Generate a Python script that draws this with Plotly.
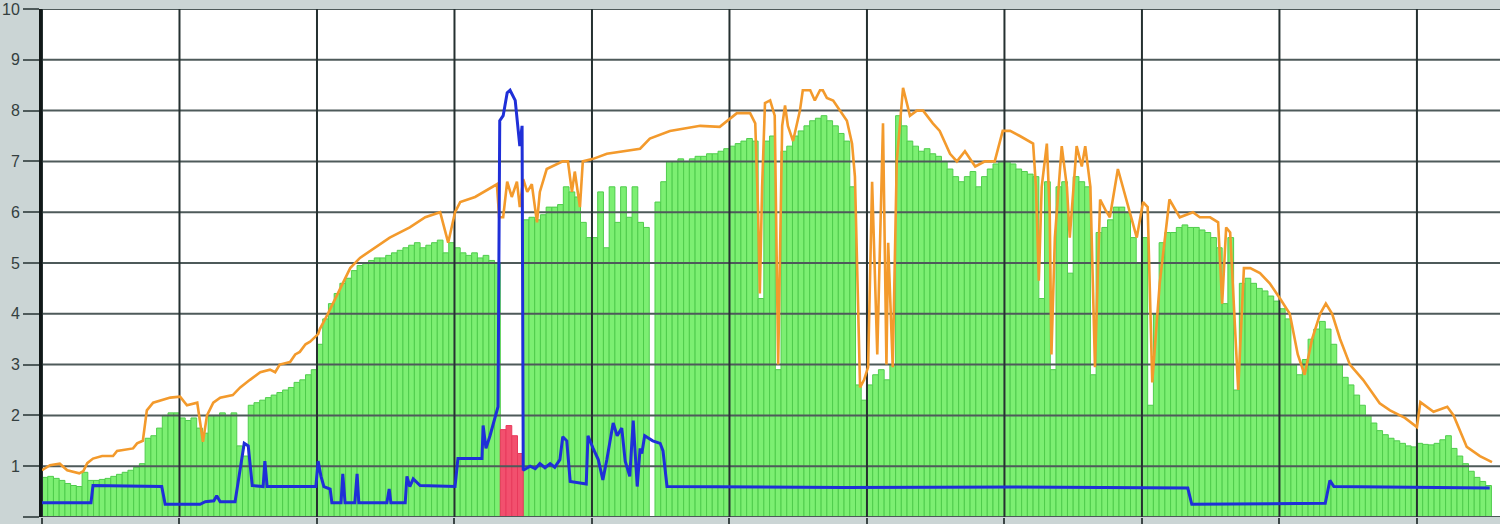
import numpy as np
import plotly.graph_objects as go

# ---------------- data ----------------
# green bars: one value per time slot (24 slots per grid column)
green_vals = [
    0.78, 0.80, 0.76, 0.72, 0.66, 0.62, 0.60, 0.88, 0.72, 0.72,
    0.74, 0.76, 0.80, 0.84, 0.88, 0.92, 0.98, 1.05, 1.55, 1.60,
    1.75, 2.00, 2.05, 2.05, 1.95, 1.90, 1.95, 1.75, 1.65, 2.00,
    2.00, 2.05, 2.00, 2.05, 1.40, 1.20, 2.20, 2.25, 2.30, 2.35,
    2.40, 2.45, 2.50, 2.55, 2.65, 2.70, 2.80, 2.90, 3.40, 3.90,
    4.20, 4.40, 4.60, 4.70, 4.85, 4.95, 5.00, 5.05, 5.10, 5.10,
    5.15, 5.20, 5.25, 5.30, 5.35, 5.40, 5.30, 5.35, 5.40, 5.45,
    5.20, 5.40, 5.30, 5.20, 5.15, 5.20, 5.10, 5.15, 5.05, 5.00,
    0.00, 0.00, 0.00, 0.00, 5.85, 5.90, 5.85, 5.95, 6.10, 6.10,
    6.15, 6.50, 6.40, 6.30, 5.80, 5.50, 5.50, 6.40, 5.30, 6.50,
    5.80, 6.50, 5.90, 6.50, 5.80, 5.70, 0.00, 6.20, 6.60, 7.00,
    7.00, 7.05, 7.00, 7.05, 7.10, 7.10, 7.15, 7.15, 7.20, 7.25,
    7.30, 7.35, 7.40, 7.45, 7.40, 4.30, 7.40, 7.50, 2.90, 7.20,
    7.30, 7.50, 7.60, 7.70, 7.80, 7.85, 7.90, 7.80, 7.70, 7.55,
    7.40, 6.50, 2.60, 2.30, 2.60, 2.80, 2.90, 2.70, 3.00, 7.90,
    7.70, 7.40, 7.30, 7.20, 7.25, 7.15, 7.10, 7.00, 6.85, 6.70,
    6.60, 6.70, 6.80, 6.50, 6.70, 6.85, 6.95, 7.00, 7.00, 6.95,
    6.85, 6.80, 6.75, 6.70, 4.30, 6.60, 2.90, 6.50, 6.60, 4.80,
    6.70, 6.60, 6.50, 2.80, 5.60, 5.70, 5.85, 6.10, 6.10, 6.00,
    5.50, 5.00, 5.50, 2.20, 4.00, 5.40, 5.60, 5.60, 5.70, 5.75,
    5.70, 5.70, 5.65, 5.60, 5.50, 5.30, 4.20, 5.50, 2.50, 4.60,
    4.70, 4.60, 4.50, 4.45, 4.35, 4.25, 4.10, 3.90, 3.00, 2.80,
    3.10, 3.50, 3.70, 3.85, 3.70, 3.40, 3.00, 2.75, 2.60, 2.40,
    2.20, 2.00, 1.85, 1.70, 1.62, 1.55, 1.50, 1.45, 1.40, 1.38,
    1.45, 1.43, 1.42, 1.45, 1.52, 1.60, 1.35, 1.20, 1.05, 0.90,
    0.78, 0.70, 0.62,
]

# red bars (slot index, value)
red_slots = [80, 81, 82, 83]
red_vals = [1.72, 1.80, 1.60, 1.25]

# orange line (slot position, value)
orange_x = [
    0, 1.4, 3.1, 4.4, 6.5, 7.2, 7.9, 8.9, 10.5, 12.4, 13.1, 15.9, 16.6, 17.6,
    18.3, 19.4, 22.4, 24.1, 25.3, 27.1, 28.1, 28.8, 29.9, 31.1, 33.3, 34.6,
    36.3, 38.1, 39.8, 40.7, 41.5, 43.3, 44.2, 45.0, 46.0, 46.8, 48.2, 48.5,
    49.9, 52.0, 53.8, 55.5, 58.1, 60.7, 64.2, 66.9, 69.5, 70.9, 72.1, 73.0,
    75.6, 78.7, 79.4, 79.8, 80.5, 81.2, 82.0, 82.9, 83.4, 84.0, 84.7, 85.5,
    86.4, 86.9, 88.1, 90.9, 91.8, 92.5, 93.0, 93.9, 94.4, 96.2, 98.6, 104.4,
    106.1, 109.6, 114.9, 118.3, 121.3, 123.6, 124.5, 125.0, 125.3, 125.7,
    126.2, 127.1, 127.9, 128.5, 129.2, 129.7, 130.2, 131.1, 132.3, 132.8,
    134.1, 134.9, 135.8, 136.3, 137.0, 138.1, 139.3, 140.5, 141.4, 141.9,
    142.8, 143.5, 144.2, 144.9, 145.8, 146.8, 147.4, 147.7, 148.5, 149.2,
    150.3, 151.5, 152.7, 153.8, 155.5, 156.7, 158.5, 159.7, 161.1, 162.9,
    164.6, 166.3, 167.7, 169.0, 170.7, 173.0, 173.5, 174.0, 174.5, 175.4,
    175.9, 176.2, 176.8, 178.0, 178.9, 179.4, 180.6, 181.5, 182.1, 183.0,
    183.8, 184.7, 185.6, 186.4, 187.8, 189.4, 191.1, 192.2, 193.0, 193.8,
    195.1, 196.8, 198.6, 200.9, 202.1, 203.9, 205.3, 206.0, 206.7, 207.4,
    208.1, 208.8, 209.8, 210.9, 212.6, 214.3, 216.1, 217.8, 219.2, 220.4,
    221.7, 223.1, 224.1, 225.2, 226.6, 228.3, 230.6, 231.8, 233.5, 235.3,
    237.9, 240.0, 240.6, 242.9, 245.3, 246.4, 248.7, 251.0, 253.1,
]
orange_y = [
    0.92, 1.02, 1.05, 0.92, 0.86, 0.90, 1.06, 1.15, 1.20, 1.20, 1.30, 1.35, 1.45, 1.50,
    2.10, 2.25, 2.35, 2.37, 2.20, 2.25, 1.48, 2.00, 2.25, 2.35, 2.40, 2.55,
    2.70, 2.85, 2.90, 2.85, 3.00, 3.05, 3.20, 3.25, 3.40, 3.45, 3.60, 3.70,
    4.00, 4.50, 4.90, 5.10, 5.30, 5.50, 5.70, 5.90, 6.00, 5.40, 6.00, 6.20,
    6.30, 6.50, 6.55, 5.90, 5.90, 6.60, 6.30, 6.60, 6.10, 6.65, 6.40, 6.55,
    5.80, 6.40, 6.85, 7.00, 7.00, 6.40, 6.80, 6.10, 7.00, 7.05, 7.15, 7.25,
    7.45, 7.60, 7.70, 7.68, 7.95, 7.95, 7.75, 6.00, 4.40, 6.50,
    8.15, 8.20, 7.90, 3.00, 7.70, 8.10, 7.70, 7.40, 8.00, 8.40,
    8.40, 8.20, 8.40, 8.40, 8.25, 8.20, 8.00, 7.80, 7.35, 6.70,
    2.55, 2.70, 2.95, 6.60, 3.20, 7.75, 3.00, 5.40, 2.95, 7.00,
    8.45, 7.90, 8.00, 8.00, 7.75, 7.60, 7.15, 7.00, 7.20, 6.90,
    7.00, 7.00, 7.60, 7.60, 7.50, 7.35, 6.50, 4.65, 6.50, 7.35,
    6.00, 3.20, 5.50, 7.30, 6.50, 5.50, 7.30, 6.90, 7.30, 6.50,
    2.95, 6.25, 6.05, 5.90, 6.85, 6.20, 5.50, 6.20, 6.10, 2.65,
    4.60, 6.25, 5.90, 6.00, 5.90, 5.90, 5.80, 4.20, 5.70, 5.60,
    4.00, 2.50, 4.90, 4.90, 4.80, 4.60, 4.30, 4.00, 3.20, 2.80,
    3.50, 4.00, 4.20, 4.00, 3.50, 3.00, 2.70, 2.50, 2.24, 2.10,
    1.95, 1.77, 2.26, 2.07, 2.17, 2.00, 1.38, 1.20, 1.08,
]

# blue line (slot position, value)
blue_x = [
    0, 8.55, 8.9, 20.9, 21.5, 27.6, 28.5, 30.0, 30.5, 31.1, 33.7, 34.6, 35.3,
    36.0, 36.7, 38.6, 38.9, 39.3, 47.8, 48.2, 48.7, 49.2, 50.3, 50.6, 52.2,
    52.5, 52.9, 54.6, 55.0, 55.3, 60.2, 60.6, 60.9, 63.4, 63.7, 64.2, 64.8,
    66.0, 72.1, 72.6, 76.8, 77.0, 77.5, 78.2, 79.6, 79.9, 80.5, 81.2, 81.7,
    82.6, 83.1, 83.4, 83.8, 84.0, 85.2, 86.1, 86.9, 87.8, 88.7, 89.5, 90.4,
    90.9, 91.6, 92.2, 95.0, 95.3, 96.2, 97.1, 97.9, 98.6, 99.7, 100.4, 101.2,
    101.8, 102.6, 103.2, 103.9, 104.4, 104.7, 105.2, 106.6, 107.9, 108.4,
    109.1, 140.0, 170.0, 200.0, 200.7, 224.0, 224.8, 225.5, 252.7,
]
blue_y = [
    0.28, 0.28, 0.62, 0.60, 0.25, 0.25, 0.30, 0.32, 0.42, 0.30, 0.30, 1.00, 1.45,
    1.40, 0.62, 0.60, 1.10, 0.60, 0.60, 1.10, 0.80, 0.60, 0.55, 0.28, 0.28,
    0.85, 0.28, 0.28, 0.85, 0.28, 0.28, 0.55, 0.28, 0.28, 0.80, 0.60, 0.75,
    0.62, 0.60, 1.15, 1.15, 1.80, 1.35, 1.60, 2.17, 7.80, 7.90, 8.35, 8.40,
    8.20, 7.70, 7.30, 7.70, 0.92, 1.00, 0.95, 1.05, 0.97, 1.05, 0.98, 1.13,
    1.58, 1.50, 0.70, 0.65, 1.60, 1.35, 1.13, 0.73, 1.13, 1.85, 1.60, 1.75,
    1.10, 0.80, 1.90, 0.60, 1.35, 1.25, 1.60, 1.50, 1.45, 1.30,
    0.60, 0.58, 0.59, 0.57, 0.25, 0.27, 0.72, 0.60, 0.57,
]

y_ticks = list(range(0, 11))
slots_per_column = 24

# ---------------- figure ----------------
n = len(green_vals)
slot_centers = np.arange(n) + 0.5
x_max = 254.5
x_grid = np.arange(0, x_max, slots_per_column)

fig = go.Figure()

fig.add_trace(go.Bar(
    x=slot_centers, y=green_vals, width=1.0,
    marker=dict(color="#7cef72", line=dict(color="#4fcc4c", width=1)),
    hoverinfo="skip", showlegend=False,
))
fig.add_trace(go.Bar(
    x=np.array(red_slots) + 0.5, y=red_vals, width=1.0,
    marker=dict(color="#f2506e", line=dict(color="#e83a5c", width=1)),
    hoverinfo="skip", showlegend=False,
))

# grid drawn above the bars (as in the reference)
hx, hy = [], []
for v in y_ticks:
    hx += [0, x_max, None]
    hy += [v, v, None]
fig.add_trace(go.Scatter(x=hx, y=hy, mode="lines",
                         line=dict(color="#4e5a5a", width=2),
                         hoverinfo="skip", showlegend=False))
vx, vy = [], []
for g in x_grid:
    vx += [g, g, None]
    vy += [0, 10, None]
fig.add_trace(go.Scatter(x=vx, y=vy, mode="lines",
                         line=dict(color="#253030", width=2),
                         hoverinfo="skip", showlegend=False))

fig.add_trace(go.Scatter(x=orange_x, y=orange_y, mode="lines",
                         line=dict(color="#f39a2c", width=2.6),
                         hoverinfo="skip", showlegend=False))
fig.add_trace(go.Scatter(x=blue_x, y=blue_y, mode="lines",
                         line=dict(color="#1f2fd8", width=3),
                         hoverinfo="skip", showlegend=False))

fig.update_layout(
    width=1500, height=524,
    margin=dict(l=42, r=0, t=9, b=7),
    paper_bgcolor="#cbd5d5",
    plot_bgcolor="#ffffff",
    barmode="overlay",
    showlegend=False,
    font=dict(family="Liberation Sans, Arial, sans-serif", color="#3b4646"),
)
fig.update_xaxes(
    range=[0, x_max], showgrid=False, zeroline=False, automargin=False,
    showticklabels=False, ticks="outside", ticklen=6, tickwidth=2,
    tickcolor="#3b4646", tickvals=x_grid,
    showline=False,
)
fig.update_yaxes(
    range=[0, 10], showgrid=False, zeroline=False, automargin=False,
    tickvals=y_ticks, ticktext=[str(v) for v in y_ticks],
    ticks="outside", ticklen=16, tickwidth=2, tickcolor="#4e5a5a",
    tickfont=dict(size=16, family="Liberation Sans, Arial, sans-serif", color="#343f3f"),
    showline=True, linecolor="#111818", linewidth=3,
)

fig.write_html(
    "out.html",
    config={"displayModeBar": False},
    post_script="document.body.style.margin='0';document.body.style.overflow='hidden';",
)
